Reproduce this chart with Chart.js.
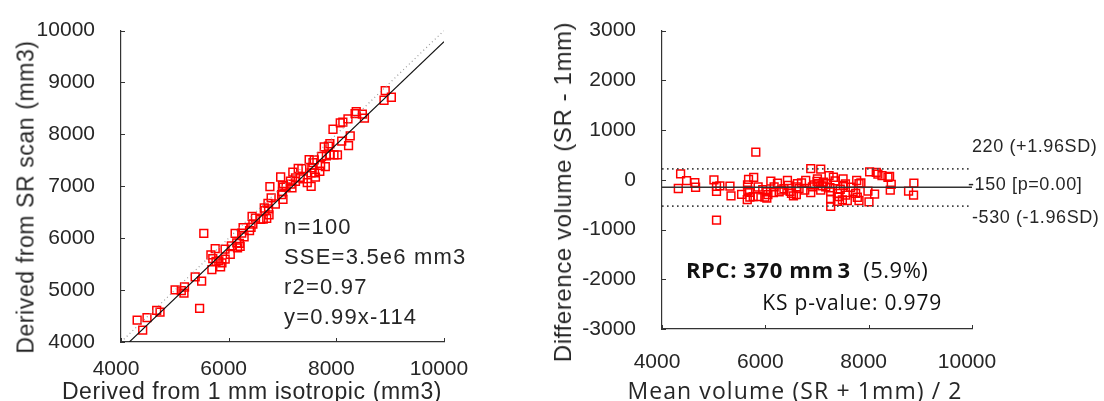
<!DOCTYPE html>
<html>
<head>
<meta charset="utf-8">
<script src="https://cdn.jsdelivr.net/npm/chart.js@4.4.1/dist/chart.umd.min.js"></script>
<style>
  body { margin: 0; background: #fff; }
  #wrap { position: relative; width: 1104px; height: 401px; overflow: hidden; background: #fff; }
  #wrap canvas { position: absolute; top: 0; }
  .txt { position: absolute; white-space: nowrap; line-height: 1; color: #262626; font-family: "Liberation Sans", Arial, sans-serif; }
  .axis-title { font-size: 23px; letter-spacing: 0.6px; transform: translate(-50%, -50%); }
  .axis-title.vert { transform: translate(-50%, -50%) rotate(-90deg); }
  .stats { font-size: 22px; letter-spacing: 1.2px; transform: translateY(-50%); }
  .limit { font-size: 18px; letter-spacing: 0.6px; transform: translateY(-50%); }
  .os { font-family: "Open Sans", sans-serif; }
</style>
</head>
<body>
<div id="wrap">
  <canvas id="scatterChart" width="552" height="401" style="left:0"></canvas>
  <canvas id="baChart" width="552" height="401" style="left:552px"></canvas>

  <div class="txt axis-title vert" style="left:26px; top:197px;">Derived from SR scan (mm3)</div>
  <div class="txt axis-title" style="left:252px; top:391px;">Derived from 1 mm isotropic (mm3)</div>
  <div class="txt stats" style="left:284px; top:227px;">n=100</div>
  <div class="txt stats" style="left:284px; top:257px;">SSE=3.5e6 mm3</div>
  <div class="txt stats" style="left:284px; top:287px;">r2=0.97</div>
  <div class="txt stats" style="left:284px; top:317px;">y=0.99x-114</div>

  <div class="txt axis-title vert" style="left:563px; top:192px; font-size:24px;">Difference volume (SR - 1mm)</div>
  <div class="txt axis-title os" style="left:795px; top:390px; letter-spacing:1.1px;">Mean volume (SR + 1mm) / 2</div>
  <div class="txt limit" style="left:972px; top:146px;">220 (+1.96SD)</div>
  <div class="txt limit" style="left:968px; top:184px;">-150 [p=0.00]</div>
  <div class="txt limit" style="left:972px; top:217px;">-530 (-1.96SD)</div>
  <div class="txt os" style="left:686px; top:269px; font-size:22px; transform:translateY(-50%); color:#111;"><b style="letter-spacing:0.6px;">RPC: 370 mm<span style="margin-left:4px">3</span></b><span style="letter-spacing:0.5px;">&nbsp;&nbsp;(5.9%)</span></div>
  <div class="txt os" style="left:942px; top:302px; font-size:21px; letter-spacing:0.8px; transform:translate(-100%,-50%); color:#111;">KS p-value: 0.979</div>
</div>

<script>
// paired volumes per subject (mm3)
const iso1mm = [
  4300, 4403, 4483, 4663, 4725, 5005, 5120, 5170, 5180, 5460,
  5378, 5498, 5688, 5538, 5670, 5750, 5705, 5765, 5933, 5850,
  5875, 5935, 6030, 6165, 5818, 6150, 6214, 6120, 6242, 6268,
  6287, 6388, 6416, 6435, 6497, 6642, 6707, 6674, 6661, 6741,
  6789, 6867, 6766, 7009, 6983, 6999, 7067, 6966, 7176, 7147,
  7241, 7192, 7241, 7292, 7386, 7531, 7595, 7495, 7566, 7693,
  7612, 7532, 7460, 7795, 7775, 7853, 7885, 7956, 8021, 7708,
  7938, 8073, 8121, 8216, 8348, 8370, 8483, 8100, 8258, 8227,
  8522, 8886, 8908, 9022, 6200, 6450, 6595, 6730, 7000, 7160,
  7330, 7360, 7545, 7725, 7815, 7880, 6050, 6750, 7015, 7590
];
const srScan = [
  4420, 4228, 4468, 4608, 4575, 5005, 4990, 4940, 5060, 4650,
  5253, 5173, 5393, 6093, 5680, 5800, 5605, 5555, 5788, 5450,
  5525, 5595, 5690, 5815, 5563, 5909, 5844, 6093, 6098, 6202,
  6027, 6147, 6208, 6421, 6386, 6369, 6382, 6530, 6582, 6565,
  6775, 6659, 6992, 6749, 6839, 7018, 6988, 7179, 6968, 7101,
  7097, 7275, 7162, 7343, 7145, 7258, 7257, 7514, 7455, 7290,
  7177, 6999, 7070, 7379, 7761, 7774, 7612, 7605, 7605, 7402,
  8099, 8221, 8237, 8299, 8399, 8440, 8391, 7872, 7972, 7785,
  8314, 8658, 8842, 8716, 5900, 6270, 6365, 6670, 6900, 7040,
  7170, 7340, 7355, 7575, 7585, 7820, 5850, 6450, 6985, 7510
];

const volumeTicks = [4000, 6000, 8000, 10000];
const srTicks = [4000, 5000, 6000, 7000, 8000, 9000, 10000];
const diffTicks = [-3000, -2000, -1000, 0, 1000, 2000, 3000];

// linear fit and Bland-Altman limits as reported
const fitSlope = 0.99;
const fitIntercept = -114;
const meanDiff = -150;
const upperLimit = 220;
const lowerLimit = -530;

const TEXT = '#262626';
const AXIS = '#333333';
const MARKER = 'rgb(255, 0, 0)';
const TICK_LEN = 4;

const meanVol = iso1mm.map((v, i) => (v + srScan[i]) / 2);
const diffVol = iso1mm.map((v, i) => srScan[i] - v);

// MATLAB-style tick marks pointing into the plot
const inwardTicks = {
    id: 'inwardTicks',
    afterDraw(chart) {
        const { ctx, chartArea, scales } = chart;
        ctx.save();
        ctx.strokeStyle = AXIS;
        ctx.lineWidth = 1;
        ctx.beginPath();
        scales.x.ticks.forEach(t => {
            const px = Math.round(scales.x.getPixelForValue(t.value)) + 0.5;
            ctx.moveTo(px, chartArea.bottom);
            ctx.lineTo(px, chartArea.bottom - TICK_LEN);
        });
        scales.y.ticks.forEach(t => {
            const py = Math.round(scales.y.getPixelForValue(t.value)) + 0.5;
            ctx.moveTo(chartArea.left, py);
            ctx.lineTo(chartArea.left + TICK_LEN, py);
        });
        ctx.stroke();
        ctx.restore();
    }
};

function axisOptions(tickValues, min, max, fit, pad, labelOffset) {
    return {
        type: 'linear',
        min: min,
        max: max,
        afterBuildTicks: s => { s.ticks = tickValues.map(v => ({ value: v })); },
        afterFit: fit,
        grid: { display: false },
        border: { display: true, color: AXIS, width: 1.2 },
        ticks: {
            color: TEXT,
            font: { family: 'Liberation Sans', size: 21 },
            padding: pad,
            labelOffset: labelOffset,
            maxRotation: 0,
            autoSkip: false,
            callback: v => String(v)
        }
    };
}

function lineSet(points, color, width, dash) {
    return {
        type: 'scatter',
        data: points,
        showLine: true,
        borderColor: color,
        borderWidth: width,
        borderDash: dash,
        pointRadius: 0,
        fill: false,
        order: 1
    };
}

function markerSet(points) {
    return {
        data: points,
        pointStyle: 'rect',
        pointRadius: 5.5,
        borderColor: MARKER,
        borderWidth: 1.5,
        backgroundColor: 'rgba(0,0,0,0)',
        order: 2
    };
}

const baseOptions = {
    responsive: false,
    animation: false,
    events: [],
    plugins: { legend: { display: false }, tooltip: { enabled: false } }
};

// left: SR scan against 1 mm isotropic
const fitStart = (4000 - fitIntercept) / fitSlope;
new Chart(document.getElementById('scatterChart'), {
    type: 'scatter',
    data: {
        datasets: [
            markerSet(iso1mm.map((v, i) => ({ x: v, y: srScan[i] }))),
            lineSet([{ x: 4000, y: 4000 }, { x: 10000, y: 10000 }], '#9a9a9a', 1.2, [1, 3]),
            lineSet([{ x: fitStart, y: 4000 }, { x: 10000, y: fitSlope * 10000 + fitIntercept }], '#111', 1.1, [])
        ]
    },
    options: Object.assign({}, baseOptions, {
        layout: { padding: { left: 0, top: 20, right: 108, bottom: 18 } },
        scales: {
            x: axisOptions(volumeTicks, 4000, 10000, s => { s.height = 41; }, 7, -5),
            y: axisOptions(srTicks, 4000, 10000, s => { s.width = 121; }, 18, 0)
        }
    }),
    plugins: [inwardTicks]
});

// right: Bland-Altman difference against mean
new Chart(document.getElementById('baChart'), {
    type: 'scatter',
    data: {
        datasets: [
            markerSet(meanVol.map((m, i) => ({ x: m, y: diffVol[i] }))),
            lineSet([{ x: 4000, y: upperLimit }, { x: 10000, y: upperLimit }], '#444', 1.6, [1.6, 3.4]),
            lineSet([{ x: 4000, y: meanDiff }, { x: 10000, y: meanDiff }], '#333', 1.5, []),
            lineSet([{ x: 4000, y: lowerLimit }, { x: 10000, y: lowerLimit }], '#444', 1.6, [1.6, 3.4])
        ]
    },
    options: Object.assign({}, baseOptions, {
        layout: { padding: { left: 0, top: 21, right: 132, bottom: 31 } },
        scales: {
            x: axisOptions(volumeTicks, 4000, 10000, s => { s.height = 41; }, 13, -5),
            y: axisOptions(diffTicks, -3000, 3000, s => { s.width = 110; }, 18, 0)
        }
    }),
    plugins: [inwardTicks]
});
</script>
</body>
</html>
